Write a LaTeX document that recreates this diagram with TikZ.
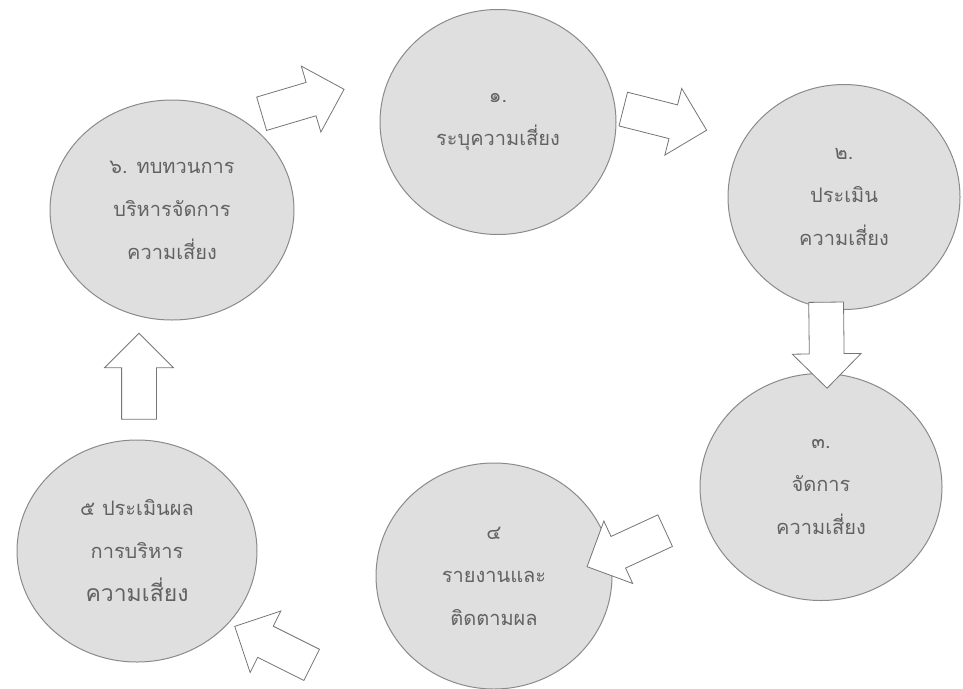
\documentclass[tikz,border=0pt]{standalone}
\usepackage{fontspec}
\newfontfamily\thaifont[Script=Thai]{Loma}
\usetikzlibrary{shapes.geometric,shapes.arrows}
\definecolor{stagefill}{HTML}{DFDFDF}
\definecolor{stageline}{HTML}{8A8A8A}
\definecolor{stagetext}{HTML}{626262}
\begin{document}
\begin{tikzpicture}[x=1pt, y=-1pt,
    stage/.style={ellipse, draw=stageline, fill=stagefill, line width=1pt,
      inner sep=0pt, align=center, text=stagetext,
      font=\thaifont\fontsize{20}{43}\selectfont},
    bigarrow/.style={single arrow, draw=stageline!85!black, fill=white,
      line width=0.8pt, inner xsep=0pt, inner ysep=17pt,
      single arrow head extend=17pt, minimum height=86pt,
      midway, sloped, allow upside down}]
  \useasboundingbox (0, 0) rectangle (963, 688);
  % the six stages
  \node[stage, minimum width=244, minimum height=220] (s6) at (172, 210)
    {๖. ทบทวนการ\\บริหารจัดการ\\ความเสี่ยง};
  \node[stage, minimum width=236, minimum height=225] (s1) at (498, 122)
    {๑.\\ระบุความเสี่ยง};
  \node[stage, minimum width=232, minimum height=225] (s2) at (844, 197)
    {๒.\\ประเมิน\\ความเสี่ยง};
  \node[stage, minimum width=242, minimum height=227] (s3) at (821, 487)
    {๓.\\จัดการ\\ความเสี่ยง};
  \node[stage, minimum width=236, minimum height=226] (s4) at (494, 576)
    {๔\\รายงานและ\\ติดตามผล};
  \node[stage, minimum width=240, minimum height=222] (s5) at (137, 551)
    {๕ ประเมินผล\\การบริหาร\\{\fontsize{23}{43}\selectfont ความเสี่ยง}};
  % arrow ends
  \coordinate (t61) at (254, 116);  \coordinate (h61) at (335, 92);
  \coordinate (t12) at (615, 107);  \coordinate (h12) at (698, 128);
  \coordinate (t23) at (826, 293);  \coordinate (h23) at (827, 380);
  \coordinate (t34) at (673, 527);  \coordinate (h34) at (595, 563);
  \coordinate (t45) at (320, 669);  \coordinate (h45) at (242, 630);
  \coordinate (t56) at (139, 428);  \coordinate (h56) at (139, 342);
  \path (t61) -- (h61) node[bigarrow] (a61) {}
        (t12) -- (h12) node[bigarrow] (a12) {}
        (t23) -- (h23) node[bigarrow] (a23) {}
        (t34) -- (h34) node[bigarrow] (a34) {}
        (t45) -- (h45) node[bigarrow] (a45) {}
        (t56) -- (h56) node[bigarrow] (a56) {};
\end{tikzpicture}
\end{document}
